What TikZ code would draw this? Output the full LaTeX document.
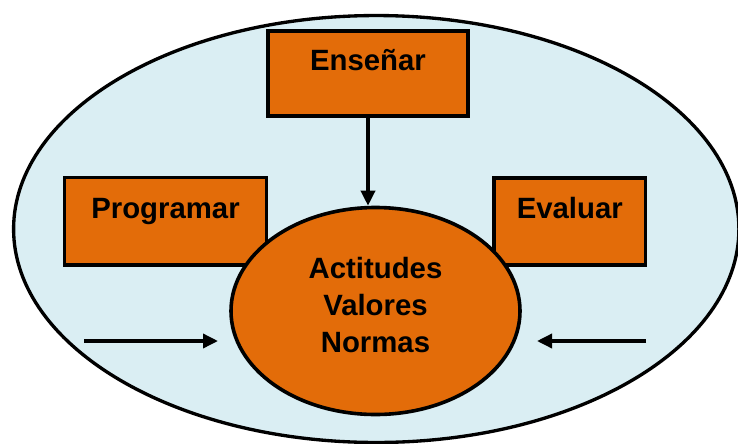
\documentclass[tikz,border=0pt]{standalone}
\usepackage{fontspec}
\setmainfont{Liberation Sans}
\usetikzlibrary{arrows.meta, shapes.geometric}
\definecolor{naranja}{HTML}{E36C09}
\definecolor{celeste}{HTML}{DAEEF3}

\begin{document}
\begin{tikzpicture}[x=0.75pt, y=-0.75pt,
  letra/.style={font=\bfseries\fontsize{22pt}{28pt}\selectfont},
  caja/.style={letra, draw, line width=2.9pt, fill=naranja, inner sep=0pt, text height=15.75pt, text depth=20.25pt},
  centro/.style={ellipse, draw, line width=2.7pt, fill=naranja, inner sep=0pt, minimum width=216.75pt, minimum height=155.25pt},
  flecha/.style={-{Triangle[length=11.25pt, width=10.5pt]}, line width=2.6pt}]
  \clip (0,0) rectangle (738,443);
  \draw[line width=2.5pt, fill=celeste] (376.25,229) ellipse [x radius=272pt, y radius=160.1pt];

  \node[caja, minimum width=150.4pt, minimum height=63.4pt] (ens) at (368,73.3) {Enseñar};
  \node[caja, minimum width=151.5pt, minimum height=65.6pt] (prog) at (165.5,221.2) {Programar};
  \node[caja, minimum width=113.6pt, minimum height=65.4pt] (eval) at (569.8,221.2) {Evaluar};

  \node[centro] (act) at (375.5,311) {};
  \node[letra, align=center] (acttxt) at (375.5,305) {Actitudes\\Valores\\Normas};

  \coordinate (izq1) at (84,341);
  \coordinate (izq2) at (218,341);
  \coordinate (der1) at (646,341);
  \coordinate (der2) at (537,341);

  \draw[flecha] (ens.south) -- (ens.south |- act.north);
  \draw[flecha] (izq1) -- (izq2);
  \draw[flecha] (der1) -- (der2);
\end{tikzpicture}
\end{document}
